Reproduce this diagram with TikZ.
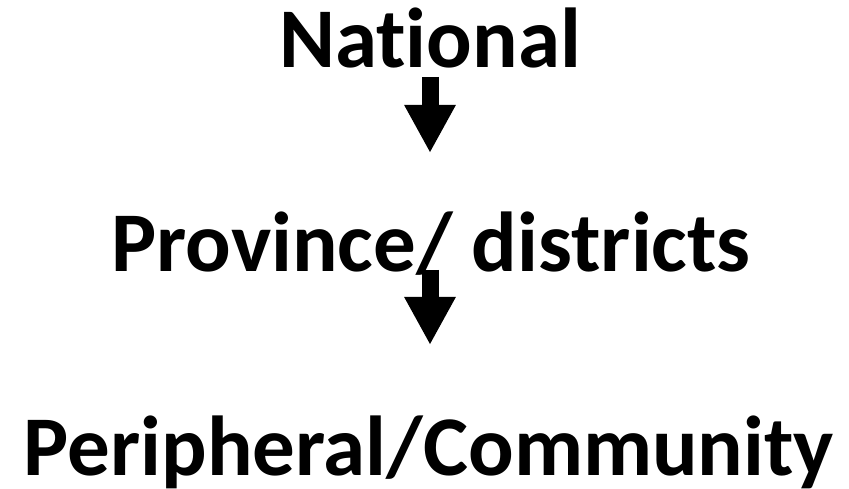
\documentclass[tikz,border=0pt]{standalone}
\usepackage{fontspec}
\setmainfont{Carlito}[Ligatures={NoCommon,NoRare,NoContextual}]
\usetikzlibrary{arrows.meta}
\begin{document}
\begin{tikzpicture}[x=1pt,y=1pt,
  lvl/.style={font=\fontsize{85}{90}\selectfont\bfseries, inner sep=0pt, anchor=base},
  blockarrow/.style={line width=17pt, -{Triangle[length=48pt,width=48pt]}}]
\useasboundingbox (0,0) rectangle (849,489);
\node[lvl] (nat) at (430,421) {National};
\node[lvl] (prov) at (431,217) {Province/ districts};
\node[lvl] (peri) at (429,13) {Peripheral/Community};
\coordinate (a1s) at (430,412);
\coordinate (a1e) at (430,336);
\coordinate (a2s) at (430,219);
\coordinate (a2e) at (430,144);
\draw[blockarrow] (a1s) -- (a1e);
\draw[blockarrow] (a2s) -- (a2e);
\end{tikzpicture}
\end{document}
